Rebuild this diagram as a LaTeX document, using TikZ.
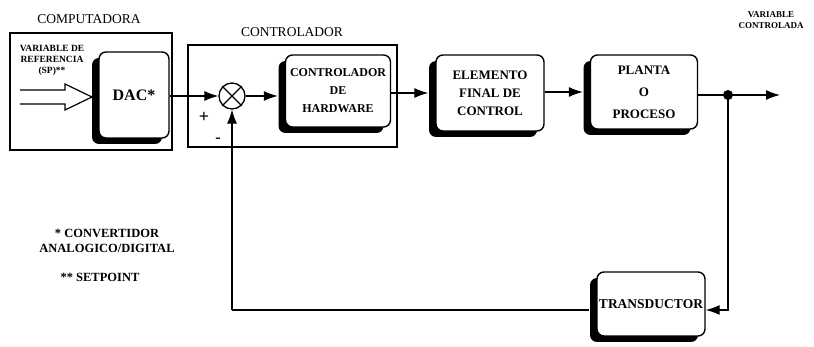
\documentclass[tikz,border=0pt]{standalone}
\usepackage{fontspec}
\setmainfont{Liberation Serif}
\usetikzlibrary{arrows.meta,shadows}
\begin{document}
\begin{tikzpicture}[x=1pt,y=-1pt,
  blk/.style={draw, line width=1.4pt, rounded corners=7pt, fill=white,
    align=center, font=\bfseries\fontsize{13}{18}\selectfont, inner sep=0pt,
    drop shadow={shadow xshift=-7pt, shadow yshift=-6pt, opacity=1, fill=black}},
  grp/.style={draw, line width=1.2pt},
  lbl/.style={font=\fontsize{13.5}{15}\selectfont},
  note/.style={font=\bfseries\fontsize{12.5}{15}\selectfont, align=center},
  sig/.style={line width=1.2pt},
  arr/.style={sig, -{Latex[length=14pt,width=10pt]}}]
\useasboundingbox (0,0) rectangle (814,347);

% group frames
\draw[grp] (10,33) rectangle (172,150);
\draw[grp] (188,45) rectangle (397,147);
\node[lbl] (lcomp) at (89,19) {COMPUTADORA};
\node[lbl] (lctrl) at (292,32) {CONTROLADOR};

% blocks
\node[blk, minimum width=70pt, minimum height=86pt, font=\bfseries\fontsize{16}{18}\selectfont] (dac) at (134,95) {DAC*};
\node[blk, minimum width=105pt, minimum height=72pt, font=\bfseries\fontsize{12}{18}\selectfont] (ch) at (338,91) {CONTROLADOR\\DE\\HARDWARE};
\node[blk, minimum width=108pt, minimum height=76pt] (elem) at (490,93) {ELEMENTO\\FINAL DE\\CONTROL};
\node[blk, minimum width=107pt, minimum height=74pt, font=\bfseries\fontsize{13}{22}\selectfont] (planta) at (644,92) {PLANTA\\O\\PROCESO};
\node[blk, minimum width=108pt, minimum height=64pt, font=\bfseries\fontsize{13.5}{16}\selectfont] (trans) at (651,304) {TRANSDUCTOR};

% summing junction
\node[draw, circle, line width=1.3pt, minimum size=26pt, inner sep=0pt] (sum) at (232,96) {};
\draw[sig] (sum.north west) -- (sum.south east);
\draw[sig] (sum.north east) -- (sum.south west);
\node[font=\bfseries\fontsize{18}{18}\selectfont] (plus) at (204,117) {+};
\node[font=\bfseries\fontsize{16}{16}\selectfont] (minus) at (218,140) {-};

% reference input (hollow arrow)
\draw[line width=1.2pt, fill=white] (20,90) -- (65,90) -- (65,84) -- (92,97) -- (65,110) -- (65,104) -- (20,104);
\node[note, font=\bfseries\fontsize{9.5}{11}\selectfont] (ref) at (52,60) {VARIABLE DE\\REFERENCIA\\(SP)**};

% forward path
\coordinate (chin) at ([xshift=-7pt]ch.west |- sum.east);
\draw[arr] (dac.east |- sum.west) -- (sum.west);
\draw[arr] (sum.east) -- (chin);
\draw[arr] (ch.east |- elem.west) -- ([xshift=-7pt]elem.west);
\draw[arr] (elem.east |- planta.west) -- ([xshift=-7pt]planta.west);
\coordinate (br) at (728,95);
\coordinate (out) at (780,95);
\draw[sig] (planta.east |- br) -- (br);
\draw[arr] (br) -- (out);
\fill (br) circle (5pt);
\node[note, font=\bfseries\fontsize{9}{11}\selectfont] (vc) at (771,20) {VARIABLE\\CONTROLADA};

% feedback path
\coordinate (fbr) at (728,310);
\coordinate (fbl) at (232,310);
\draw[arr] (br) -- (fbr) -- (trans.east |- fbr);
\draw[sig] ([xshift=-7pt]trans.west |- fbl) -- (fbl);
\draw[arr] (fbl) -- (sum.south);

% footnotes
\node[note] (n1) at (107,241) {* CONVERTIDOR\\ANALOGICO/DIGITAL};
\node[note] (n2) at (100,277) {** SETPOINT};
\end{tikzpicture}
\end{document}
